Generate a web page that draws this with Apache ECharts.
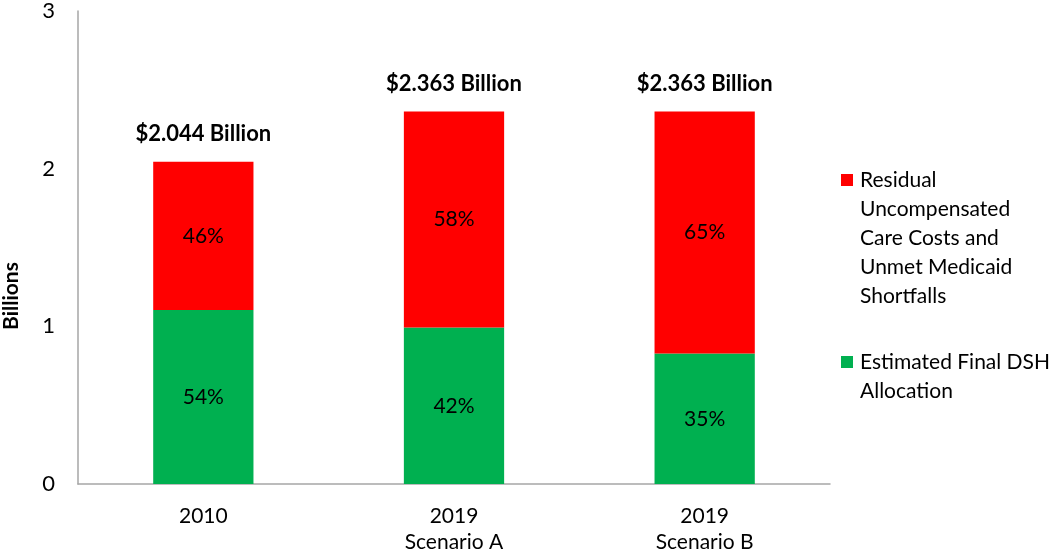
<!DOCTYPE html>
<html>
<head>
<meta charset="utf-8">
<script src="https://cdn.jsdelivr.net/npm/echarts@6/dist/echarts.min.js"></script>
<style>
html,body{margin:0;padding:0;background:#fff;}
#chart{width:1050px;height:555px;}
</style>
</head>
<body>
<div id="chart"></div>
<script>
var categories = ['2010', '2019\nScenario A', '2019\nScenario B'];
var greenValues = [1.104, 0.992, 0.827];
var redValues = [0.940, 1.371, 1.536];
var greenPct = ['54%', '42%', '35%'];
var redPct = ['46%', '58%', '65%'];
var totalLabels = ['$2.044 Billion', '$2.363 Billion', '$2.363 Billion'];
var yTicks = [0, 1, 2, 3];
var seriesNames = ['Estimated Final DSH\nAllocation', 'Residual\nUncompensated\nCare Costs and\nUnmet Medicaid\nShortfalls'];

var FONT = 'Lato, "Open Sans", sans-serif';
var chart = echarts.init(document.getElementById('chart'));
var option = {
  animation: false,
  backgroundColor: '#ffffff',
  textStyle: {fontFamily: FONT},
  grid: {left: 78, right: 220, top: 8, bottom: 67, containLabel: false},
  xAxis: {
    type: 'category',
    data: categories,
    axisLine: {show: true, lineStyle: {color: '#A6A6A6', width: 1.5}},
    axisTick: {show: false},
    axisLabel: {color: '#000', fontSize: 21, fontFamily: FONT, margin: 19, lineHeight: 26}
  },
  yAxis: {
    type: 'value',
    min: yTicks[0],
    max: yTicks[yTicks.length - 1],
    interval: 1,
    axisLine: {show: true, lineStyle: {color: '#A6A6A6', width: 1.5}},
    axisTick: {show: false},
    splitLine: {show: false},
    axisLabel: {color: '#000', fontSize: 22, fontFamily: FONT, margin: 23}
  },
  series: [
    {
      name: seriesNames[0],
      type: 'bar',
      stack: 'total',
      barWidth: '40%',
      data: greenValues,
      itemStyle: {color: '#00B050'},
      label: {
        show: true, position: 'inside', color: '#000', fontSize: 21, fontFamily: FONT,
        formatter: function (p) { return greenPct[p.dataIndex]; }
      }
    },
    {
      name: seriesNames[1],
      type: 'bar',
      stack: 'total',
      barWidth: '40%',
      data: redValues,
      itemStyle: {color: '#FF0000'},
      label: {
        show: true, position: 'inside', color: '#000', fontSize: 21, fontFamily: FONT,
        formatter: function (p) { return redPct[p.dataIndex]; }
      }
    },
    {
      name: 'totals',
      type: 'bar',
      stack: 'total',
      barWidth: '40%',
      data: [0, 0, 0],
      itemStyle: {color: 'transparent'},
      silent: true,
      label: {
        show: true, position: 'top', distance: 17, color: '#000', fontSize: 22, fontWeight: 'bold', fontFamily: FONT,
        formatter: function (p) { return totalLabels[p.dataIndex]; }
      }
    }
  ],
  legend: {show: false},
  graphic: [
    {type: 'text', x: 11, y: 296, rotation: Math.PI / 2,
      style: {text: 'Billions', fontSize: 21, fontWeight: 'bold', fontFamily: FONT, fill: '#000', align: 'center', verticalAlign: 'middle'}},
    {type: 'rect', shape: {x: 841, y: 174, width: 12, height: 12}, style: {fill: '#FF0000'}},
    {type: 'text', x: 860, y: 166,
      style: {text: seriesNames[1], fontSize: 21, lineHeight: 29, fontFamily: FONT, fill: '#000', align: 'left', verticalAlign: 'top'}},
    {type: 'rect', shape: {x: 841, y: 356, width: 12, height: 12}, style: {fill: '#00B050'}},
    {type: 'text', x: 860, y: 348,
      style: {text: seriesNames[0], fontSize: 21, lineHeight: 29, fontFamily: FONT, fill: '#000', align: 'left', verticalAlign: 'top'}}
  ]
};
chart.setOption(option);
</script>
</body>
</html>
